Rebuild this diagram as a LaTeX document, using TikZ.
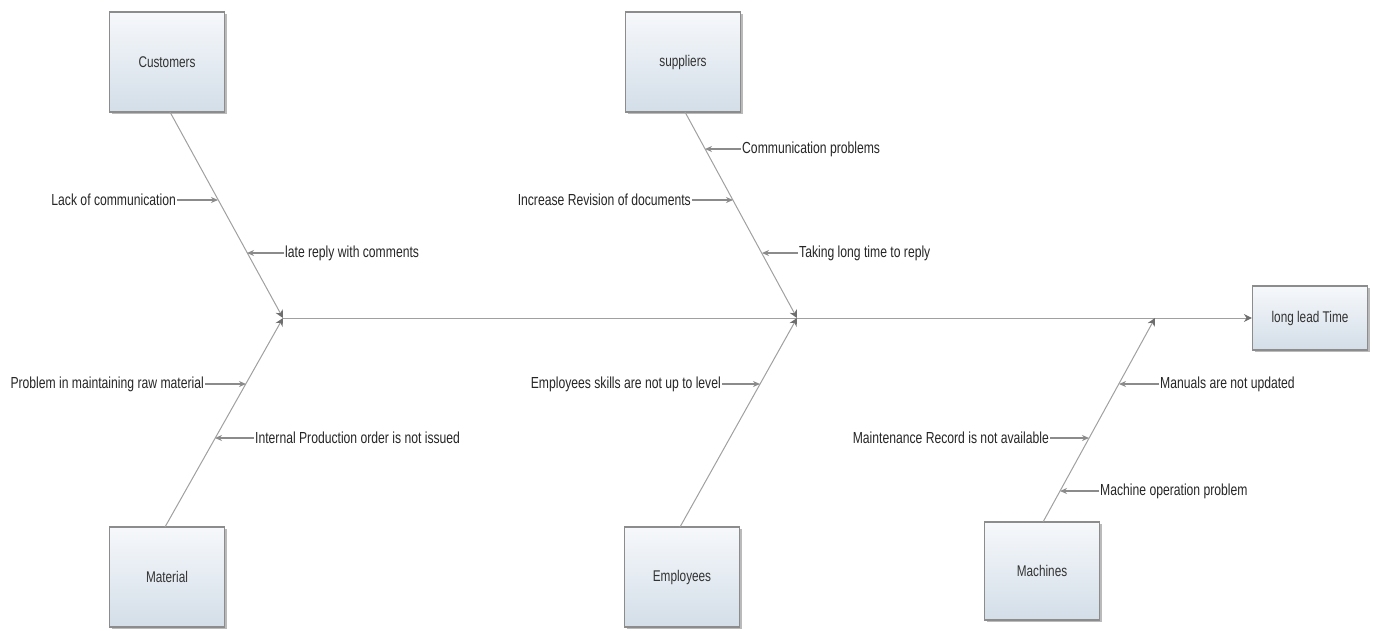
\documentclass[tikz,border=0pt]{standalone}
\usepackage{fontspec}
\setmainfont{Liberation Sans}[FakeStretch=0.76]
\usetikzlibrary{shadows,arrows.meta}
\definecolor{boxtop}{HTML}{F6F8FB}
\definecolor{boxbot}{HTML}{D3DEE8}
\definecolor{boxline}{HTML}{8C8C8C}
\definecolor{boneline}{HTML}{A0A0A0}
\definecolor{tipcol}{HTML}{6E6E6E}
\tikzset{
  causebox/.style={draw=boxline, line width=1.2pt, top color=boxtop, bottom color=boxbot,
    minimum width=115pt, minimum height=100pt, font=\fontsize{15.5}{18}\selectfont, text=black!80,
    drop shadow={shadow xshift=2pt, shadow yshift=-2pt, fill=black!45, opacity=0.6}},
  bone/.style={draw=boneline, line width=1pt},
  subarrow/.style={draw=tipcol!80, line width=1.3pt, -{Stealth[length=7pt,width=6pt]}},
  bonearrow/.style={draw=boneline, line width=1pt, -{Stealth[length=8pt,width=8pt,color=tipcol]}},
  lbl/.style={font=\fontsize{16}{18}\selectfont, text=black!85, inner sep=1pt},
}
\begin{document}
\begin{tikzpicture}[x=1pt,y=-1pt]
\useasboundingbox (0,0) rectangle (1373,630);
% boxes
\node[causebox] (cust) at (167,62) {Customers};
\node[causebox] (supp) at (683,62) {suppliers};
\node[causebox] (mat) at (167,577) {Material};
\node[causebox] (emp) at (682,577) {Employees};
\node[causebox, minimum height=98pt] (mach) at (1042,571) {Machines};
\node[causebox, minimum height=64pt] (eff) at (1310,318) {long lead Time};
% junctions on spine
\coordinate (j1) at (283,318);
\coordinate (j2) at (797,318);
\coordinate (j3) at (1155,318);
% spine
\draw[bonearrow] (j1) -- (eff.west);
% bones
\draw[bonearrow] (170,112) coordinate (cs) -- (j1);
\draw[bonearrow] (165,527) coordinate (ms) -- (j1);
\draw[bonearrow] (685,112) coordinate (ss) -- (j2);
\draw[bonearrow] (680,527) coordinate (es) -- (j2);
\draw[bonearrow] (1043,522) coordinate (hs) -- (j3);
% points on bones
\coordinate (c1) at (218,200);
\coordinate (c2) at (247,253);
\coordinate (s1) at (705,149);
\coordinate (s2) at (733,200);
\coordinate (s3) at (762,253);
\coordinate (m1) at (246,384);
\coordinate (m2) at (215,438);
\coordinate (e1) at (760,384);
\coordinate (h1) at (1119,384);
\coordinate (h2) at (1089,438);
\coordinate (h3) at (1060,491);
% labels
\node[lbl, anchor=east] (lc1) at (177,200) {Lack of communication};
\node[lbl, anchor=west] (lc2) at (284,253) {late reply with comments};
\node[lbl, anchor=west] (ls1) at (741,149) {Communication problems};
\node[lbl, anchor=east] (ls2) at (692,200) {Increase Revision of documents};
\node[lbl, anchor=west] (ls3) at (798,253) {Taking long time to reply};
\node[lbl, anchor=east] (lm1) at (205,384) {Problem in maintaining raw material};
\node[lbl, anchor=west] (lm2) at (254,438) {Internal Production order is not issued};
\node[lbl, anchor=east] (le1) at (722,384) {Employees skills are not up to level};
\node[lbl, anchor=west] (lh1) at (1159,384) {Manuals are not updated};
\node[lbl, anchor=east] (lh2) at (1050,438) {Maintenance Record is not available};
\node[lbl, anchor=west] (lh3) at (1099,491) {Machine operation problem};
% sub arrows
\draw[subarrow] (lc1.east) -- (c1);
\draw[subarrow] (lc2.west) -- (c2);
\draw[subarrow] (ls1.west) -- (s1);
\draw[subarrow] (ls2.east) -- (s2);
\draw[subarrow] (ls3.west) -- (s3);
\draw[subarrow] (lm1.east) -- (m1);
\draw[subarrow] (lm2.west) -- (m2);
\draw[subarrow] (le1.east) -- (e1);
\draw[subarrow] (lh1.west) -- (h1);
\draw[subarrow] (lh2.east) -- (h2);
\draw[subarrow] (lh3.west) -- (h3);
\end{tikzpicture}
\end{document}
